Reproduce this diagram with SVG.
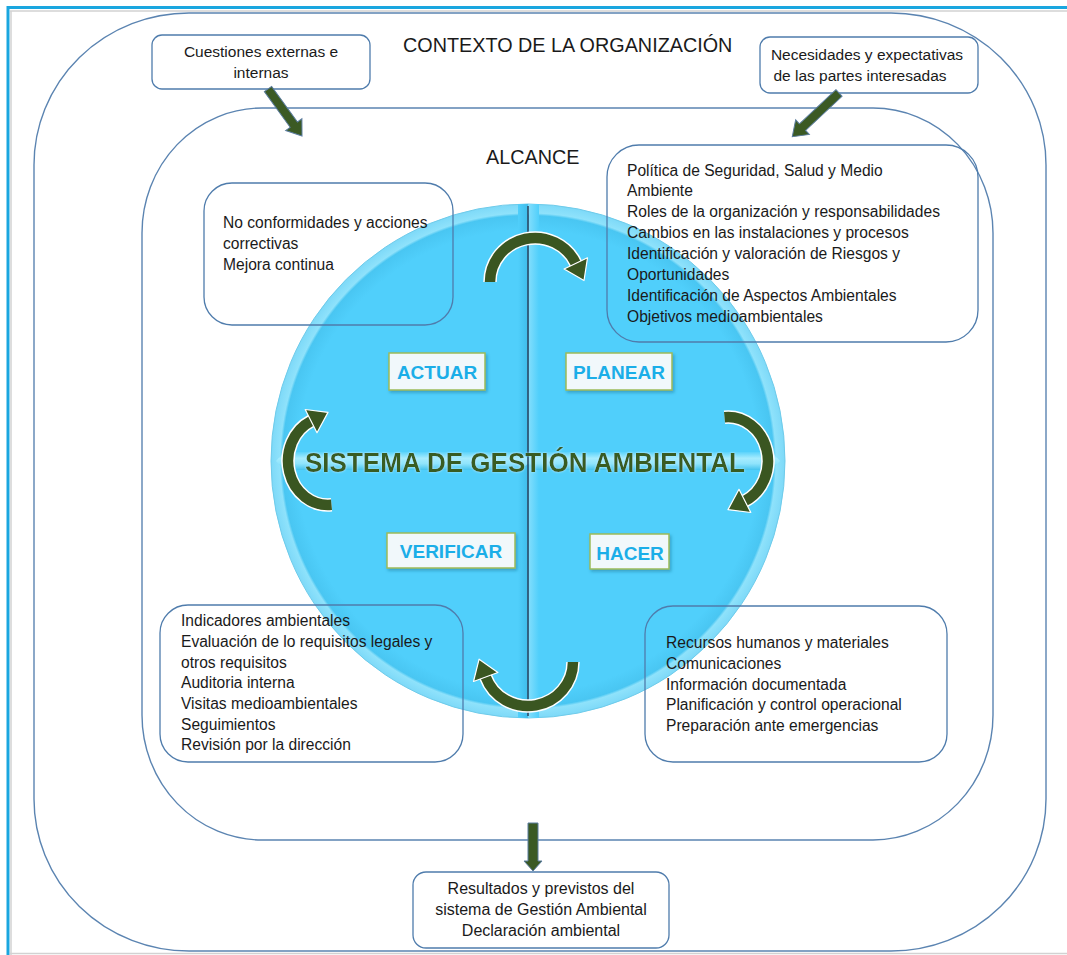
<svg xmlns="http://www.w3.org/2000/svg" width="1067" height="955" viewBox="0 0 1067 955">
<style>
.frame{fill:none;stroke:#5B84B1;stroke-width:1.4}
.box{fill:none;stroke:#4F7CAC;stroke-width:1.3}
.t{font-family:"Liberation Sans",Arial,sans-serif;font-size:15.6px;fill:#1a1a1a}
.tc{font-family:"Liberation Sans",Arial,sans-serif;font-size:15.5px;fill:#1a1a1a;text-anchor:middle}
.tb{font-family:"Liberation Sans",Arial,sans-serif;font-size:16px;fill:#1a1a1a;text-anchor:middle}
.big{font-family:"Liberation Sans",Arial,sans-serif;font-size:19.8px;fill:#1a1a1a}
.lbl{fill:#F1F8FB;stroke:#9BBB59;stroke-width:1.5}
.lt{font-family:"Liberation Sans",Arial,sans-serif;font-size:19px;font-weight:bold;fill:#1BAEE8;text-anchor:middle}
.sarrow{fill:#3B5A24;stroke:#5B7C9E;stroke-width:1}
.cw{fill:none;stroke:#ffffff;stroke-width:13.5}
.cg{fill:none;stroke:#3A5621;stroke-width:10.5}
.ch{fill:#3A5621;stroke:#ffffff;stroke-width:1.2;stroke-linejoin:round}
</style>
<defs>
<clipPath id="cc"><circle cx="528" cy="461" r="257"/></clipPath>
<linearGradient id="band" x1="0" y1="0" x2="0" y2="1">
<stop offset="0" stop-color="#5BD3FB"/>
<stop offset="0.35" stop-color="#A6ECFE"/>
<stop offset="0.65" stop-color="#8FE4FC"/>
<stop offset="1" stop-color="#45C3EE"/>
</linearGradient>
<radialGradient id="cf" cx="0.5" cy="0.5" r="0.5">
<stop offset="0.9" stop-color="#50CFFB"/>
<stop offset="0.955" stop-color="#49C6F2"/>
<stop offset="0.965" stop-color="#8FE2FB"/>
<stop offset="1" stop-color="#7DD9F8"/>
</radialGradient>
<linearGradient id="vl" x1="0" y1="0" x2="1" y2="0">
<stop offset="0" stop-color="#50CFFB"/>
<stop offset="1" stop-color="#3FBDEB"/>
</linearGradient>
<linearGradient id="vr" x1="0" y1="0" x2="1" y2="0">
<stop offset="0" stop-color="#7FDDFC"/>
<stop offset="1" stop-color="#50CFFB"/>
</linearGradient>
<filter id="sh" x="-10%" y="-10%" width="130%" height="140%">
<feDropShadow dx="1.5" dy="2" stdDeviation="1.5" flood-color="#1E6A8A" flood-opacity="0.45"/>
</filter>
<filter id="glow" x="-5%" y="-20%" width="110%" height="140%">
<feDropShadow dx="0" dy="0" stdDeviation="1.2" flood-color="#C8F2FF" flood-opacity="0.9"/>
</filter>
</defs>

<g id="page-frame">
<line x1="10" y1="11" x2="1067" y2="11" stroke="#D2D2D2" stroke-width="1.5"/>
<line x1="11" y1="11" x2="11" y2="955" stroke="#D2D2D2" stroke-width="1.5"/>
<line x1="10" y1="953.5" x2="1067" y2="953.5" stroke="#D2D2D2" stroke-width="1.5"/>
<line x1="7" y1="7.5" x2="1067" y2="7.5" stroke="#1AA6DF" stroke-width="3"/>
<line x1="8" y1="6" x2="8" y2="955" stroke="#1AA6DF" stroke-width="3"/>
</g>

<g id="contexto">
<rect class="frame" x="34" y="13" width="1012" height="938" rx="155" ry="152"/>
<text class="big" x="403" y="52">CONTEXTO DE LA ORGANIZACIÓN</text>
</g>

<g id="alcance">
<rect class="frame" x="142" y="108" width="851" height="732" rx="120" ry="125"/>
<text class="big" x="486" y="164">ALCANCE</text>
</g>

<g id="pdca-circle">
<circle cx="528" cy="461" r="257" fill="url(#cf)" stroke="#6FCBEA" stroke-width="1"/>
<g clip-path="url(#cc)">
<rect x="518" y="204" width="10" height="514" fill="url(#vl)"/>
<rect x="529" y="204" width="10" height="514" fill="url(#vr)"/>
<polygon points="276,461 284,452 520,452 528,458 536,452 772,452 780,461 772,470 536,470 528,464 520,470 284,470" fill="url(#band)"/>
</g>
<line x1="528" y1="206" x2="528" y2="716" stroke="#2E4A66" stroke-width="1.6"/>
<text x="525" y="472" font-family="'Liberation Sans',Arial,sans-serif" font-size="27" font-weight="bold" fill="#385C20" textLength="440" lengthAdjust="spacingAndGlyphs" text-anchor="middle" filter="url(#glow)">SISTEMA DE GESTIÓN AMBIENTAL</text>
</g>

<g id="actuar">
<rect class="lbl" x="389" y="353" width="96" height="37" filter="url(#sh)"/>
<text class="lt" x="437" y="379">ACTUAR</text>
</g>
<g id="planear">
<rect class="lbl" x="566" y="353" width="106" height="37" filter="url(#sh)"/>
<text class="lt" x="619" y="379">PLANEAR</text>
</g>
<g id="verificar">
<rect class="lbl" x="387" y="533" width="128" height="35" filter="url(#sh)"/>
<text class="lt" x="451" y="558">VERIFICAR</text>
</g>
<g id="hacer">
<rect class="lbl" x="590" y="534" width="79" height="35" filter="url(#sh)"/>
<text class="lt" x="630" y="560">HACER</text>
</g>

<g id="cuestiones">
<rect class="box" x="152" y="35" width="218" height="54" rx="10"/>
<text class="tc" x="261" y="57">Cuestiones externas e</text>
<text class="tc" x="261" y="78">internas</text>
</g>

<g id="necesidades">
<rect class="box" x="760" y="37" width="218" height="56" rx="10"/>
<text class="tc" x="867" y="60">Necesidades y expectativas</text>
<text class="tc" x="860" y="81">de las partes interesadas</text>
</g>

<g id="no-conformidades">
<rect class="box" x="204" y="183" width="249" height="142" rx="28"/>
<text class="t" x="223" y="228">No conformidades y acciones</text>
<text class="t" x="223" y="249">correctivas</text>
<text class="t" x="223" y="270">Mejora continua</text>
</g>

<g id="planear-items">
<rect class="box" x="607" y="145" width="371" height="197" rx="32"/>
<text class="t" x="627" y="176">Política de Seguridad, Salud y Medio</text>
<text class="t" x="627" y="196">Ambiente</text>
<text class="t" x="627" y="217">Roles de la organización y responsabilidades</text>
<text class="t" x="627" y="238">Cambios en las instalaciones y procesos</text>
<text class="t" x="627" y="259">Identificación y valoración de Riesgos y</text>
<text class="t" x="627" y="280">Oportunidades</text>
<text class="t" x="627" y="301">Identificación de Aspectos Ambientales</text>
<text class="t" x="627" y="322">Objetivos medioambientales</text>
</g>

<g id="verificar-items">
<rect class="box" x="160" y="605" width="303" height="157" rx="28"/>
<text class="t" x="181" y="626">Indicadores ambientales</text>
<text class="t" x="181" y="647">Evaluación de lo requisitos legales y</text>
<text class="t" x="181" y="668">otros requisitos</text>
<text class="t" x="181" y="688">Auditoria interna</text>
<text class="t" x="181" y="709">Visitas medioambientales</text>
<text class="t" x="181" y="730">Seguimientos</text>
<text class="t" x="181" y="750">Revisión por la dirección</text>
</g>

<g id="hacer-items">
<rect class="box" x="645" y="606" width="302" height="156" rx="28"/>
<text class="t" x="666" y="648">Recursos humanos y materiales</text>
<text class="t" x="666" y="669">Comunicaciones</text>
<text class="t" x="666" y="690">Información documentada</text>
<text class="t" x="666" y="710">Planificación y control operacional</text>
<text class="t" x="666" y="731">Preparación ante emergencias</text>
</g>

<g id="resultados">
<rect class="box" x="413" y="872" width="256" height="76" rx="13"/>
<text class="tb" x="541" y="894">Resultados y previstos del</text>
<text class="tb" x="541" y="915">sistema de Gestión Ambiental</text>
<text class="tb" x="541" y="936">Declaración ambiental</text>
</g>

<g id="connectors">
<polygon class="sarrow" transform="translate(268,89) rotate(-35.9)" points="-4.5,0 4.5,0 4.5,44 10,44 0,58 -10,44 -4.5,44"/>
<polygon class="sarrow" transform="translate(839,93) rotate(46.9)" points="-4.5,0 4.5,0 4.5,50 10,50 0,64 -10,50 -4.5,50"/>
<polygon class="sarrow" points="528,823 538,823 538,861 542,861 533,871 524,861 528,861"/>

<path class="cw" d="M490,282 A45,44 0 0,1 575.8,263.4"/>
<path class="cg" d="M490,282 A45,44 0 0,1 575.8,263.4"/>
<polygon class="ch" points="587.5,257.8 564.1,269.0 584.0,280.5"/>

<path class="cw" d="M724.5,417.2 A40,44 0 0,1 744.9,500.9"/>
<path class="cg" d="M724.5,417.2 A40,44 0 0,1 744.9,500.9"/>
<polygon class="ch" points="750.8,512.5 739.0,489.3 728.0,509.6"/>

<path class="cw" d="M573,662 A45,44 0 0,1 485.7,677"/>
<path class="cg" d="M573,662 A45,44 0 0,1 485.7,677"/>
<polygon class="ch" points="497.9,672.5 473.5,681.5 479.1,659.2"/>

<path class="cw" d="M331.5,504.8 A40,44 0 0,1 311.1,421.1"/>
<path class="cg" d="M331.5,504.8 A40,44 0 0,1 311.1,421.1"/>
<polygon class="ch" points="305.2,409.5 317.0,432.7 328.0,412.4"/>
</g>
</svg>
